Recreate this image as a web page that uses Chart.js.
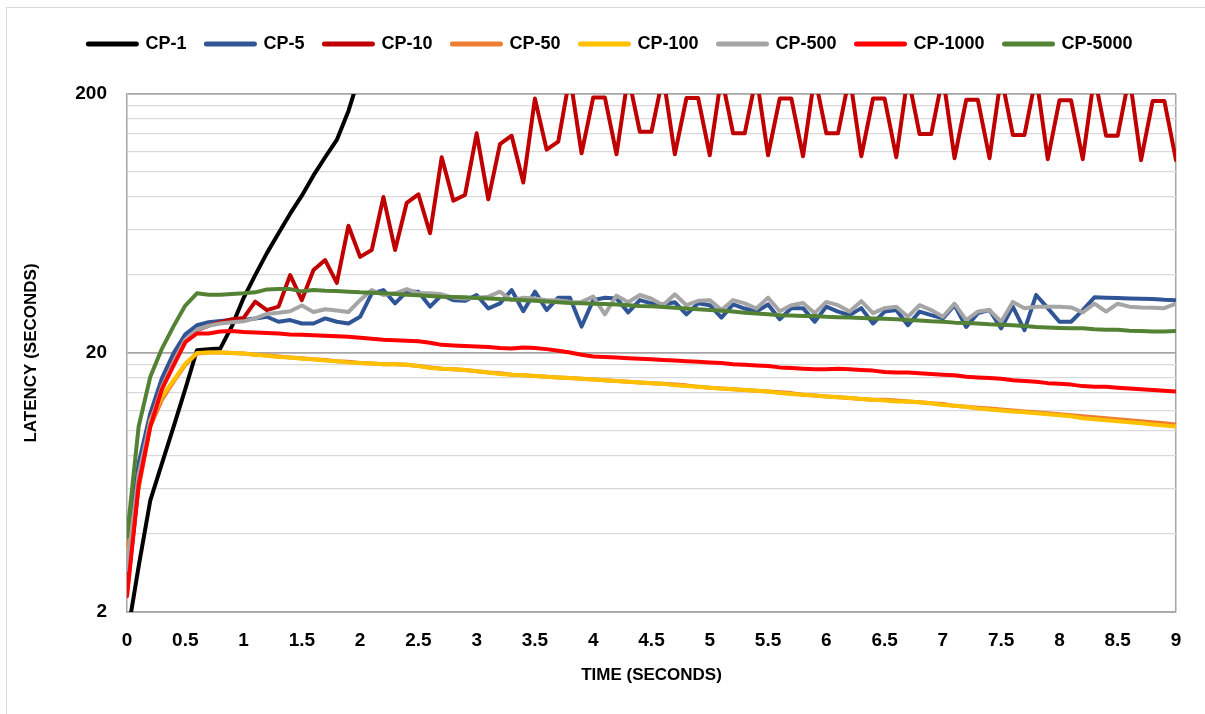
<!DOCTYPE html>
<html>
<head>
<meta charset="utf-8">
<title>Latency over time</title>
<script src="https://cdn.jsdelivr.net/npm/chart.js"></script>
<style>
  body { margin: 0; background: #fff; }
  #wrap { position: relative; width: 1205px; height: 714px; overflow: hidden; }
  #frame { position: absolute; left: 6px; top: 7px; width: 1300px; height: 800px; border-top: 1px solid #d9d9d9; border-left: 1px solid #d9d9d9; pointer-events: none; }
  canvas { position: absolute; left: 0; top: 0; }
</style>
</head>
<body>
<div id="wrap">
  <canvas id="myChart" width="1205" height="714"></canvas>
  <div id="frame"></div>
</div>
<script>
const times = [
  0, 0.1, 0.2, 0.3, 0.4, 0.5, 0.6, 0.7, 0.8, 0.9,
  1, 1.1, 1.2, 1.3, 1.4, 1.5, 1.6, 1.7, 1.8, 1.9,
  2, 2.1, 2.2, 2.3, 2.4, 2.5, 2.6, 2.7, 2.8, 2.9,
  3, 3.1, 3.2, 3.3, 3.4, 3.5, 3.6, 3.7, 3.8, 3.9,
  4, 4.1, 4.2, 4.3, 4.4, 4.5, 4.6, 4.7, 4.8, 4.9,
  5, 5.1, 5.2, 5.3, 5.4, 5.5, 5.6, 5.7, 5.8, 5.9,
  6, 6.1, 6.2, 6.3, 6.4, 6.5, 6.6, 6.7, 6.8, 6.9,
  7, 7.1, 7.2, 7.3, 7.4, 7.5, 7.6, 7.7, 7.8, 7.9,
  8, 8.1, 8.2, 8.3, 8.4, 8.5, 8.6, 8.7, 8.8, 8.9,
  9
];

// latency in seconds, one value per 0.1 s
const cp1 = [
  1.6, 3.0, 5.4, 7.5, 10.4, 14.5, 20.5, 20.7, 20.8, 25.4,
  32.6, 40, 48.6, 58, 69, 81, 97, 114, 133, 172,
  240
];
const cp5 = [
  3.2, 7.5, 11.7, 16, 20, 23.6, 25.6, 26.3, 26.6, 26.8,
  26.8, 27.2, 27.6, 26.4, 26.8, 26, 26, 27.2, 26.4, 26,
  27.6, 34, 35, 31.1, 34.5, 34.5, 30.2, 33.5, 32, 31.8,
  33.5, 29.7, 31.1, 35, 29, 34.5, 29.3, 32.7, 32.7, 25.3,
  32, 32.7, 32.5, 28.7, 32, 31.1, 30.8, 31.4, 28.2, 31.1,
  30.6, 27.4, 30.8, 29.7, 28.9, 30.8, 27, 29.8, 29.8, 26.4,
  30.2, 28.9, 28, 29.8, 26, 28.9, 29.3, 25.6, 28.9, 28,
  27.2, 30.6, 25.2, 28.5, 29.3, 24.9, 30.2, 24.5, 33.5, 29.8,
  26.4, 26.4, 29.3, 32.8, 32.7, 32.6, 32.5, 32.4, 32.3, 32.1,
  32.0
];
const cp10 = [
  2.4, 6.2, 11, 14.8, 18.6, 22.5, 24.5, 25.5, 26.3, 27,
  27.3, 31.6, 29.3, 30.2, 40, 32, 41.8, 45.7, 37.3, 62,
  47, 50, 80, 50, 76, 82, 58, 114, 77.5, 81.5,
  141, 78.4, 128, 138, 91, 192, 122, 131, 235, 118,
  194, 194, 117, 235, 143, 143, 235, 117, 193, 193,
  116, 235, 141, 141, 235, 116, 192, 192, 115, 235,
  141, 141, 235, 115, 192, 192, 114, 235, 140, 140,
  235, 113, 190, 190, 113, 235, 139, 139, 235, 112,
  189, 189, 112, 235, 138, 138, 235, 111, 188, 188,
  111
];
const cp50 = [
  3.4, 6.0, 10.4, 13.2, 15.5, 18.0, 19.9, 20.1, 20.1, 20.0,
  19.9, 19.7, 19.6, 19.4, 19.2, 19.1, 18.9, 18.8, 18.6, 18.5,
  18.3, 18.2, 18.1, 18.1, 18.0, 17.8, 17.6, 17.4, 17.3, 17.2,
  17.0, 16.8, 16.7, 16.5, 16.4, 16.3, 16.2, 16.1, 16.0, 15.9,
  15.8, 15.7, 15.6, 15.5, 15.4, 15.3, 15.2, 15.1, 15.0, 14.8,
  14.7, 14.6, 14.5, 14.4, 14.3, 14.2, 14.1, 14.0, 13.8, 13.7,
  13.6, 13.5, 13.4, 13.3, 13.2, 13.2, 13.1, 13.0, 12.9, 12.8,
  12.7, 12.5, 12.4, 12.3, 12.2, 12.1, 12.0, 11.9, 11.8, 11.7,
  11.6, 11.5, 11.4, 11.3, 11.2, 11.1, 11.0, 10.9, 10.8, 10.7,
  10.6
];
const cp100 = [
  3.0, 6.3, 11.0, 13.6, 15.7, 18.2, 20.0, 20.1, 20.1, 20.0,
  19.9, 19.7, 19.5, 19.3, 19.2, 19.0, 18.9, 18.7, 18.6, 18.4,
  18.3, 18.2, 18.1, 18.1, 18.0, 17.8, 17.5, 17.4, 17.3, 17.2,
  17.0, 16.8, 16.6, 16.5, 16.4, 16.3, 16.2, 16.1, 16.0, 15.9,
  15.8, 15.7, 15.6, 15.5, 15.4, 15.3, 15.2, 15.0, 14.9, 14.8,
  14.7, 14.6, 14.5, 14.4, 14.3, 14.2, 14.0, 13.9, 13.8, 13.7,
  13.6, 13.5, 13.4, 13.3, 13.2, 13.1, 13.0, 13.0, 12.9, 12.8,
  12.6, 12.5, 12.4, 12.2, 12.1, 12.0, 11.9, 11.8, 11.7, 11.6,
  11.5, 11.4, 11.2, 11.1, 11.0, 10.9, 10.8, 10.7, 10.6, 10.5,
  10.4
];
const cp500 = [
  2.9, 6.8, 10.8, 14.8, 18.5, 22.5, 24.6, 25.5, 26, 26.3,
  26.5, 27.2, 28.3, 28.6, 29, 30.5, 28.8, 29.5, 29.2, 28.8,
  32, 35, 33.5, 34, 35.3, 34, 34, 33.7, 32.7, 32.5,
  32.7, 33, 34.5, 32, 32.7, 32.5, 32, 32, 31.4, 31.5,
  33, 28.2, 33.3, 31.4, 33.5, 32.4, 30.6, 33.7, 30.6, 31.8,
  32, 29.3, 32, 31.1, 29.7, 32.7, 29, 30.6, 31.2, 28.5,
  31.5, 30.6, 28.9, 31.7, 28.5, 29.8, 30.2, 27.6, 30.6, 29.3,
  27.6, 31, 26.8, 28.9, 29.3, 26.4, 31.5, 29.8, 30.2, 30.2,
  30.2, 30, 28.7, 31, 28.9, 31, 30.2, 30, 29.9, 29.8,
  31
];
const cp1000 = [
  2.3, 6.2, 10.4, 14.5, 17.9, 22, 23.8, 23.8, 24.2, 24.3,
  24.1, 24, 23.9, 23.8, 23.6, 23.5, 23.4, 23.3, 23.2, 23.1,
  22.9, 22.7, 22.5, 22.4, 22.3, 22.2, 21.9, 21.5, 21.4, 21.3,
  21.2, 21.1, 20.9, 20.8, 21.0, 20.9, 20.7, 20.4, 20.1, 19.7,
  19.4, 19.3, 19.2, 19.1, 19.0, 18.9, 18.8, 18.7, 18.6, 18.5,
  18.4, 18.3, 18.1, 18.0, 17.9, 17.8, 17.6, 17.5, 17.4, 17.3,
  17.3, 17.4, 17.3, 17.2, 17.1, 16.9, 16.8, 16.8, 16.7, 16.6,
  16.5, 16.4, 16.2, 16.1, 16.0, 15.9, 15.7, 15.6, 15.5, 15.3,
  15.2, 15.1, 14.9, 14.8, 14.8, 14.7, 14.6, 14.5, 14.4, 14.3,
  14.2
];
const cp5000 = [
  3.9, 10.4, 16.2, 20.8, 25.4, 30.5, 34, 33.6, 33.6, 33.8,
  34, 34.3, 35.2, 35.3, 35.3, 34.6, 35, 34.8, 34.7, 34.5,
  34.3, 34.2, 34, 33.8, 33.6, 33.4, 33.2, 33, 32.9, 32.8,
  32.6, 32.5, 32.3, 32.2, 32, 31.8, 31.6, 31.4, 31.2, 31.1,
  31, 30.9, 30.8, 30.6, 30.4, 30.3, 30.1, 29.9, 29.7, 29.5,
  29.3, 29.1, 28.9, 28.6, 28.4, 28.2, 28, 27.9, 27.8, 27.8,
  27.6, 27.5, 27.4, 27.3, 27.2, 27.1, 27, 26.8, 26.7, 26.5,
  26.4, 26.2, 26.1, 26.0, 25.8, 25.7, 25.6, 25.4, 25.2, 25.1,
  25.0, 24.9, 24.9, 24.7, 24.6, 24.6, 24.4, 24.3, 24.2, 24.2,
  24.3
];

const seriesNames = ['CP-1', 'CP-5', 'CP-10', 'CP-50', 'CP-100', 'CP-500', 'CP-1000', 'CP-5000'];
const seriesValues = [cp1, cp5, cp10, cp50, cp100, cp500, cp1000, cp5000];
const seriesColors = ['#000000', '#2f5597', '#c00000', '#ed7d31', '#ffc000', '#a5a5a5', '#ff0000', '#548235'];

const xTicks = [0, 0.5, 1, 1.5, 2, 2.5, 3, 3.5, 4, 4.5, 5, 5.5, 6, 6.5, 7, 7.5, 8, 8.5, 9];
const xTickLabels = ['0', '0.5', '1', '1.5', '2', '2.5', '3', '3.5', '4', '4.5', '5', '5.5', '6', '6.5', '7', '7.5', '8', '8.5', '9'];
const yGrid = [2, 4, 6, 8, 10, 12, 14, 16, 18, 20, 40, 60, 80, 100, 120, 140, 160, 180, 200];
const yTickLabels = { 2: '2', 20: '20', 200: '200' };

Chart.defaults.font.family = '"Liberation Sans", Arial, sans-serif';
Chart.defaults.font.size = 19;
Chart.defaults.font.weight = 'bold';
Chart.defaults.color = '#000';

// extra room under the legend, and a small nudge to the right
const legendPlacement = {
  id: 'legendPlacement',
  beforeInit(chart) {
    const fit = chart.legend.fit;
    chart.legend.fit = function () {
      fit.call(this);
      this.height += 31;
    };
  },
  afterLayout(chart) {
    chart.legend.left += 37;
  }
};

const datasets = seriesNames.map((name, i) => ({
  label: name,
  data: times.map((t, j) => ({ x: t, y: seriesValues[i][j] })).filter(p => p.y !== undefined),
  borderColor: seriesColors[i],
  backgroundColor: seriesColors[i],
  borderWidth: 4,
  pointRadius: 0,
  pointHoverRadius: 0,
  tension: 0,
  borderJoinStyle: 'round',
  borderCapStyle: 'round',
  order: seriesNames.length - i
}));

new Chart(document.getElementById('myChart'), {
  type: 'line',
  data: { datasets },
  plugins: [legendPlacement],
  options: {
    responsive: false,
    animation: false,
    layout: { padding: { left: 8, right: 29, top: 15, bottom: 0 } },
    plugins: {
      tooltip: { enabled: false },
      legend: {
        position: 'top',
        labels: {
          usePointStyle: true,
          pointStyle: 'line',
          pointStyleWidth: 48,
          padding: 20,
          font: { size: 18, weight: 'bold' },
          sort: (a, b) => a.datasetIndex - b.datasetIndex,
          generateLabels(chart) {
            return Chart.defaults.plugins.legend.labels.generateLabels(chart)
              .map(l => Object.assign(l, { lineWidth: 5, lineCap: 'round' }));
          }
        }
      }
    },
    scales: {
      x: {
        type: 'linear',
        min: 0,
        max: 9,
        afterBuildTicks: s => { s.ticks = xTicks.map(v => ({ value: v })); },
        afterFit: s => { s.height = 102; },
        ticks: {
          autoSkip: false,
          maxRotation: 0,
          padding: 17,
          callback: (v, i) => xTickLabels[i]
        },
        grid: {
          drawTicks: false,
          lineWidth: 1.5,
          color: c => (c.tick && c.tick.value === 9) ? '#a6a6a6' : 'rgba(0,0,0,0)'
        },
        border: { display: true, color: '#a6a6a6', width: 1.5 },
        title: { display: true, text: 'TIME (SECONDS)', font: { size: 17, weight: 'bold' }, padding: { top: 0, bottom: 28 } }
      },
      y: {
        type: 'logarithmic',
        min: 2,
        max: 200,
        afterBuildTicks: s => { s.ticks = yGrid.map(v => ({ value: v })); },
        afterFit: s => { s.width = 119; },
        ticks: {
          autoSkip: false,
          padding: 20,
          callback: v => yTickLabels[v] || ''
        },
        grid: {
          drawTicks: false,
          color: c => yTickLabels[c.tick.value] ? '#a6a6a6' : '#d9d9d9',
          lineWidth: c => yTickLabels[c.tick.value] ? 1.8 : 1.3
        },
        border: { display: true, color: '#a6a6a6', width: 1.5 },
        title: { display: true, text: 'LATENCY (SECONDS)', font: { size: 17, weight: 'bold' }, padding: { top: 13, bottom: 0 } }
      }
    }
  }
});
</script>
</body>
</html>
